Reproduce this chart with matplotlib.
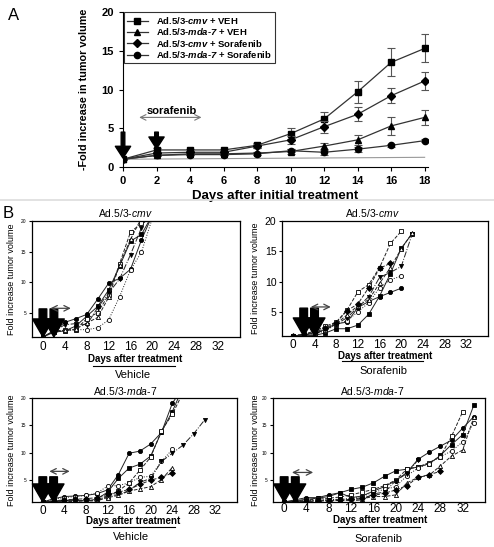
import matplotlib
matplotlib.use('Agg')
import matplotlib.pyplot as plt
from matplotlib.lines import Line2D

W, H = 494, 547
FONT = 'Liberation Sans'
plt.rcParams['mathtext.fontset'] = 'custom'
plt.rcParams['mathtext.rm'] = 'Liberation Sans'
plt.rcParams['mathtext.it'] = 'Liberation Sans:italic'
plt.rcParams['mathtext.bf'] = 'Liberation Sans:bold'
plt.rcParams['mathtext.bfit'] = 'Liberation Sans:bold:italic'

# ---------------- Panel A data ----------------
days_a = [0, 2, 4, 6, 8, 10, 12, 14, 16, 18]
cmv_veh = [1.0, 2.2, 2.2, 2.2, 2.8, 4.3, 6.2, 9.7, 13.5, 15.3]
cmv_veh_err = [0, 0.2, 0.15, 0.15, 0.35, 0.75, 0.9, 1.4, 1.8, 1.8]
mda_veh = [1.0, 1.5, 1.7, 1.7, 1.8, 2.0, 2.7, 3.5, 5.3, 6.4]
mda_veh_err = [0, 0.1, 0.1, 0.1, 0.2, 0.3, 0.4, 0.65, 1.2, 1.0]
cmv_sor = [1.0, 1.8, 1.9, 1.9, 2.7, 3.5, 5.2, 6.8, 9.2, 11.1]
cmv_sor_err = [0, 0.1, 0.1, 0.1, 0.3, 0.5, 0.8, 0.9, 1.0, 1.1]
mda_sor = [1.0, 1.5, 1.6, 1.6, 1.7, 2.1, 1.9, 2.3, 2.8, 3.4]
mda_sor_err = [0, 0.1, 0.1, 0.1, 0.2, 0.2, 0.3, 0.3, 0.2, 0.2]
baseline_days = [0, 18]
baseline_vals = [1.0, 1.25]
labels_a = ["Ad.5/3-$\\mathbfit{cmv}$ + VEH",
            "Ad.5/3-$\\mathbfit{mda}$-$\\mathbfit{7}$ + VEH",
            "Ad.5/3-$\\mathbfit{cmv}$ + Sorafenib",
            "Ad.5/3-$\\mathbfit{mda}$-$\\mathbfit{7}$ + Sorafenib"]
treat_days_a = [0, 2]

# ---------------- Panel B data ----------------
# Ad.5/3-cmv + Vehicle
bcv_days = [
    [0, 2, 4, 6, 8, 10, 12, 14, 16, 18, 20],
    [0, 2, 4, 6, 8, 10, 12, 14, 16, 18, 20],
    [0, 2, 4, 6, 8, 10, 12, 14, 16, 18, 20],
    [0, 2, 4, 6, 8, 10, 12, 14, 16, 18, 20],
    [0, 2, 4, 6, 8, 10, 12, 14, 16, 18, 20],
    [0, 2, 4, 6, 8, 10, 12, 14, 16, 18],
]
bcv_vals = [
    [1, 2.0, 3.4, 4.0, 4.7, 7.2, 9.8, 10.6, 12.1, 16.9, 21],
    [1, 1.8, 2.0, 2.8, 4.4, 6.0, 8.7, 12.6, 16.7, 17.8, 21],
    [1, 2.0, 2.1, 2.2, 4.0, 5.0, 7.9, 13.0, 18.2, 19.6, 22],
    [1, 1.8, 2.0, 2.2, 2.2, 2.5, 3.8, 7.6, 12.0, 14.9, 20.5],
    [1, 2.0, 3.0, 3.2, 3.0, 5.8, 8.2, 10.5, 14.5, 18.9, 22],
    [1, 1.9, 2.1, 2.3, 3.3, 4.2, 7.5, 12.8, 17.0, 20.5],
]
# Ad.5/3-cmv + Sorafenib
bcs_days = [
    [0, 2, 4, 6, 8, 10, 12, 14, 16, 18, 20],
    [0, 2, 4, 6, 8, 10, 12, 14, 16, 18, 20, 22],
    [0, 2, 4, 6, 8, 10, 12, 14, 16, 18, 20],
    [0, 2, 4, 6, 8, 10, 12, 14, 16, 18, 20],
    [0, 2, 4, 6, 8, 10, 12, 14, 16, 18, 20, 22],
    [0, 2, 4, 6, 8, 10, 12, 14, 16, 18, 20, 22],
    [0, 2, 4, 6, 8, 10, 12, 14, 16, 18],
]
bcs_vals = [
    [1, 1.1, 1.2, 2.2, 3.0, 3.3, 5.7, 6.7, 7.5, 8.2, 8.9],
    [1, 1.0, 1.1, 1.5, 2.2, 2.2, 2.8, 4.6, 7.6, 11.3, 15.5, 17.9],
    [1, 1.3, 1.8, 2.6, 3.3, 5.3, 8.3, 9.5, 12.3, 16.3, 18.3],
    [1, 1.2, 1.4, 1.8, 3.0, 3.5, 5.0, 6.5, 9.0, 10.3, 10.9],
    [1, 1.2, 1.5, 2.0, 3.0, 4.0, 5.8, 7.5, 10.7, 11.5, 12.5, 17.8],
    [1, 1.2, 1.5, 2.0, 3.0, 4.5, 6.0, 7.0, 9.7, 12.3, 15.4, 18.0],
    [1, 1.3, 1.6, 2.3, 3.2, 5.2, 6.3, 9.0, 12.2, 13.0],
]
# Ad.5/3-mda-7 + Vehicle
bmv_days = [
    [0, 2, 4, 6, 8, 10, 12, 14, 16, 18, 20, 22, 24, 26],
    [0, 2, 4, 6, 8, 10, 12, 14, 16, 18, 20, 22, 24, 26],
    [0, 2, 4, 6, 8, 10, 12, 14, 16, 18, 20, 22, 24, 26],
    [0, 2, 4, 6, 8, 10, 12, 14, 16, 18, 20, 22, 24],
    [0, 2, 4, 6, 8, 10, 12, 14, 16, 18, 20, 22, 24, 26, 28, 30],
    [0, 2, 4, 6, 8, 10, 12, 14, 16, 18, 20, 22, 24],
    [0, 2, 4, 6, 8, 10, 12, 14, 16, 18, 20, 22, 24],
]
bmv_vals = [
    [1, 1.6, 2.0, 2.1, 2.2, 2.5, 3.2, 6.0, 9.9, 10.3, 11.6, 13.7, 19.0, 22],
    [1, 1.2, 1.3, 1.3, 1.2, 1.5, 2.8, 5.3, 7.2, 7.9, 9.4, 13.8, 17.5, 22],
    [1, 1.1, 1.2, 1.2, 1.3, 1.2, 2.0, 3.0, 4.5, 6.8, 9.2, 14.0, 17.0, 21],
    [1, 1.5, 1.8, 2.0, 2.2, 2.6, 3.9, 4.0, 4.5, 5.5, 5.7, 8.4, 10.6],
    [1, 1.1, 1.2, 1.2, 1.3, 1.3, 2.2, 2.3, 3.1, 4.6, 5.3, 8.4, 9.9, 11.4, 13.5, 16.0],
    [1, 1.1, 1.1, 1.1, 1.2, 1.2, 1.8, 2.2, 3.0, 3.4, 3.8, 5.1, 7.3],
    [1, 1.2, 1.4, 1.5, 1.6, 1.8, 2.4, 2.8, 3.3, 4.2, 5.0, 5.5, 6.3],
]
# Ad.5/3-mda-7 + Sorafenib
bms_days = [
    [0, 2, 4, 6, 8, 10, 12, 14, 16, 18, 20, 22, 24, 26, 28, 30, 32, 34],
    [0, 2, 4, 6, 8, 10, 12, 14, 16, 18, 20, 22, 24, 26, 28, 30, 32, 34],
    [0, 2, 4, 6, 8, 10, 12, 14, 16, 18, 20, 22, 24, 26, 28, 30, 32],
    [0, 2, 4, 6, 8, 10, 12, 14, 16, 18, 20, 22, 24, 26, 28, 30, 32, 34],
    [0, 2, 4, 6, 8, 10, 12, 14, 16, 18, 20, 22, 24],
    [0, 2, 4, 6, 8, 10, 12, 14, 16, 18, 20, 22, 24, 26, 28, 30, 32, 34],
    [0, 2, 4, 6, 8, 10, 12, 14, 16, 18, 20, 22, 24, 26, 28],
]
bms_vals = [
    [1, 1.4, 1.8, 1.8, 2.3, 2.7, 1.8, 2.1, 3.0, 3.8, 4.9, 6.4, 8.8, 10.1, 11.2, 12.3, 14.5, 16.6],
    [1, 1.2, 1.5, 1.7, 2.0, 2.7, 3.3, 3.7, 4.5, 5.7, 6.7, 7.0, 7.4, 8.0, 9.5, 11.5, 13.3, 18.7],
    [1, 1.2, 1.4, 1.5, 1.7, 1.9, 2.3, 2.8, 3.3, 4.0, 5.0, 7.0, 7.4, 8.2, 9.3, 13.0, 17.5],
    [1, 1.1, 1.2, 1.3, 1.4, 1.5, 1.7, 2.0, 2.8, 3.3, 3.8, 5.8, 7.2, 8.0, 9.3, 10.3, 12.0, 15.5],
    [1, 1.1, 1.2, 1.3, 1.4, 1.5, 1.2, 1.4, 2.5, 2.8, 4.9, 6.2, 8.7],
    [1, 1.0, 1.1, 1.2, 1.3, 1.3, 1.4, 1.6, 2.0, 2.0, 2.3, 4.5, 5.5, 5.9, 7.6, 9.4, 10.5, 16.5],
    [1, 1.1, 1.1, 1.2, 1.2, 1.3, 1.5, 1.8, 2.2, 2.6, 3.2, 4.0, 5.5, 6.0, 6.6],
]
treat_days_b = {'cmv_veh': [0, 2], 'cmv_sor': [2, 4], 'mda_veh': [0, 2], 'mda_sor': [0, 2]}

b_ticks = [0, 4, 8, 12, 16, 20, 24, 28, 32]
b_yticks = [5, 10, 15, 20]

# styles for individual animals
styles = [
    dict(marker='o', ls='-', mfc='black'),
    dict(marker='s', ls='-', mfc='black'),
    dict(marker='s', ls='--', mfc='white'),
    dict(marker='o', ls=':', mfc='white'),
    dict(marker='v', ls='-.', mfc='black'),
    dict(marker='^', ls='--', mfc='white'),
    dict(marker='D', ls='--', mfc='black'),
]

fig = plt.figure(figsize=(W / 100, H / 100), dpi=100)


def rect(l, t, r, b):
    return [l / W, 1 - b / H, (r - l) / W, (b - t) / H]


def fxy(x, y):
    return x / W, 1 - y / H

# ---------------- Panel A ----------------
axA = fig.add_axes(rect(123, 12, 428, 167))
ser = [(cmv_veh, cmv_veh_err, 's'), (mda_veh, mda_veh_err, '^'),
       (cmv_sor, cmv_sor_err, 'D'), (mda_sor, mda_sor_err, 'o')]
axA.plot(baseline_days, baseline_vals, color='#999999', lw=0.8)
handles = []
for (vals, err, m), lab in zip(ser, labels_a):
    axA.errorbar(days_a, vals, yerr=err, fmt='none', ecolor='#555555',
                 elinewidth=0.8, capsize=3, capthick=0.8)
    h, = axA.plot(days_a, vals, color='#333333', lw=0.9, marker=m,
                  ms=4.5 if m != 'D' else 3.8, mfc='black', mec='black', label=lab)
    handles.append(h)
axA.set_xlim(0, 18.2)
axA.set_ylim(0, 20)
axA.set_xticks(range(0, 19, 2))
axA.set_yticks([0, 5, 10, 15, 20])
for s in ['top', 'right']:
    axA.spines[s].set_visible(False)
axA.tick_params(labelsize=8, length=3, width=0.8)
for t in axA.get_xticklabels() + axA.get_yticklabels():
    t.set_fontweight('bold')
    t.set_family(FONT)
axA.set_xlabel('Days after initial treatment', fontsize=9.5, fontweight='bold',
               family=FONT, labelpad=3)
axA.set_ylabel('-Fold increase in tumor volume', fontsize=7.8, fontweight='bold',
               family=FONT, labelpad=9)
leg = axA.legend(handles=handles, loc='upper left', bbox_to_anchor=(0.003, 1.0),
                 borderaxespad=0, fancybox=False, edgecolor='black',
                 prop=dict(family=FONT, weight='bold', size=6.8),
                 handlelength=2.2, labelspacing=0.05, borderpad=0.3, handletextpad=0.9)
leg.get_frame().set_linewidth(0.8)
for d in treat_days_a:
    v = cmv_veh[days_a.index(d)]
    axA.annotate('', xy=(d, v + 0.15), xytext=(d, 4.5),
                 arrowprops=dict(facecolor='black', edgecolor='black', width=2.6,
                                 headwidth=11, headlength=8.5, shrink=0))
axA.annotate('', xy=(0.8, 6.4), xytext=(4.85, 6.4),
             arrowprops=dict(arrowstyle='<->', color='#777777', lw=0.8))
axA.text(2.9, 7.2, 'sorafenib', ha='center', va='center', fontsize=8,
         fontweight='bold', family=FONT)

fig.text(*fxy(8, 15), 'A', fontsize=12, family=FONT, va='center', ha='left')
fig.text(*fxy(3, 213), 'B', fontsize=12, family=FONT, va='center', ha='left')
fig.add_artist(Line2D([0, 1], [1 - 200 / H] * 2, color='#dddddd', lw=1.2))

# ---------------- Panel B ----------------
panels = [
    dict(r=(32, 221, 240, 337), days=bcv_days, vals=bcv_vals, title='Ad.5/3-$\\it{cmv}$',
         tx=125, ty=213, dx=135, dy=359, line=(93, 175, 366), sub='Vehicle', sy=375,
         treat=treat_days_b['cmv_veh'], dbl=(0.85, 5.6, 5.7), ysz=3.5, ylx=12, xpad=3),
    dict(r=(282, 221, 488, 336), days=bcs_days, vals=bcs_vals, title='Ad.5/3-$\\it{cmv}$',
         tx=372, ty=213, dx=385, dy=356, line=(342, 423, 361), sub='Sorafenib', sy=371,
         treat=treat_days_b['cmv_sor'], dbl=(2.8, 7.5, 5.8), ysz=7.5, ylx=255, xpad=2),
    dict(r=(32, 398, 237, 502), days=bmv_days, vals=bmv_vals, title='Ad.5/3-$\\it{mda}$-$\\it{7}$',
         tx=125, ty=391, dx=133, dy=521, line=(93, 175, 527), sub='Vehicle', sy=537,
         treat=treat_days_b['mda_veh'], dbl=(0.7, 5.5, 6.6), ysz=3.5, ylx=12, xpad=2),
    dict(r=(273, 398, 485, 502), days=bms_days, vals=bms_vals, title='Ad.5/3-$\\it{mda}$-$\\it{7}$',
         tx=372, ty=391, dx=380, dy=520, line=(338, 420, 527), sub='Sorafenib', sy=539,
         treat=treat_days_b['mda_sor'], dbl=(0.9, 5.7, 6.4), ysz=3.5, ylx=255, xpad=0.5),
]

for p in panels:
    ax = fig.add_axes(rect(*p['r']))
    for i, (dd, vv) in enumerate(zip(p['days'], p['vals'])):
        st = styles[i % len(styles)]
        ax.plot(dd, vv, color='#222222', lw=0.7, ls=st['ls'], marker=st['marker'],
                ms=3.0, mfc=st['mfc'], mec='black', mew=0.6)
    ax.set_xlim(-2, 36)
    ax.set_ylim(1, 20)
    ax.set_xticks(b_ticks)
    ax.set_yticks(b_yticks)
    ax.tick_params(axis='x', length=0, labelsize=8.5, pad=p['xpad'])
    ax.tick_params(axis='y', length=2, labelsize=p['ysz'], pad=2)
    for t in ax.get_xticklabels() + ax.get_yticklabels():
        t.set_family(FONT)
    for s in ax.spines.values():
        s.set_linewidth(0.9)
    for d in p['treat']:
        ax.annotate('', xy=(d, 1.0), xytext=(d, 5.6),
                    arrowprops=dict(facecolor='black', edgecolor='black', width=5.5,
                                    headwidth=15, headlength=13, shrink=0),
                    annotation_clip=False)
    a, b, y = p['dbl']
    ax.annotate('', xy=(a, y), xytext=(b, y),
                arrowprops=dict(arrowstyle='<->', color='#444444', lw=0.9))
    l, t, r, btm = p['r']
    fig.text(*fxy(p['tx'], p['ty']), p['title'], ha='center', va='center',
             fontsize=7.5, family=FONT)
    fig.text(*fxy(p['dx'], p['dy']), 'Days after treatment', ha='center', va='center',
             fontsize=7, fontweight='bold', family=FONT)
    x0, x1, yl = p['line']
    fig.add_artist(Line2D([x0 / W, x1 / W], [1 - yl / H] * 2, color='black', lw=0.8))
    fig.text(*fxy(p['dx'] - 2, p['sy']), p['sub'], ha='center', va='center',
             fontsize=8, family=FONT)
    fig.text(*fxy(p['ylx'], (t + btm) / 2), 'Fold increase tumor volume', rotation=90,
             ha='center', va='center', fontsize=6.5, family=FONT)

fig.savefig('out.png', dpi=100)
